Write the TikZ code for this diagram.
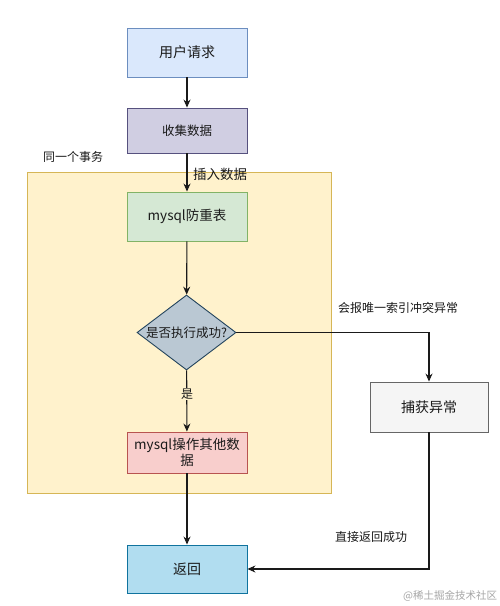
\documentclass[tikz,border=0pt]{standalone}
\usepackage{fontspec}
\setmainfont{Noto Sans CJK SC}
\usetikzlibrary{arrows.meta,shapes.geometric}
\definecolor{bluefill}{HTML}{DAE8FC}\definecolor{bluedraw}{HTML}{6C8EBF}
\definecolor{purpfill}{HTML}{D0CEE2}\definecolor{purpdraw}{HTML}{56517E}
\definecolor{yelfill}{HTML}{FFF2CC}\definecolor{yeldraw}{HTML}{D6B656}
\definecolor{grnfill}{HTML}{D5E8D4}\definecolor{grndraw}{HTML}{82B366}
\definecolor{diafill}{HTML}{BAC8D3}\definecolor{diadraw}{HTML}{23445D}
\definecolor{redfill}{HTML}{F8CECC}\definecolor{reddraw}{HTML}{B85450}
\definecolor{retfill}{HTML}{B1DDF0}\definecolor{retdraw}{HTML}{10739E}
\definecolor{gryfill}{HTML}{F5F5F5}\definecolor{grydraw}{HTML}{666666}
\definecolor{txt}{HTML}{1A1A1A}
\begin{document}
\begin{tikzpicture}[x=1pt,y=-1pt,
  box/.style={draw, line width=0.9pt, minimum width=120pt, inner sep=1pt, text=txt, align=center},
  lbl/.style={text=txt, inner sep=0pt, font=\fontsize{12}{14}\selectfont},
  arr/.style={draw=txt, line width=1.1pt, -{Stealth[length=8pt,width=7pt]}}]
\useasboundingbox (0,0) rectangle (500,606);
\fill[white] (0,0) rectangle (500,606);
% container
\node[draw=yeldraw, fill=yelfill, line width=0.9pt, minimum width=304pt, minimum height=321pt, inner sep=0pt] (tx) at (179,332.5) {};
\node[lbl, anchor=west] (txl) at (43,157) {同一个事务};
% boxes
\node[box, fill=bluefill, draw=bluedraw, minimum height=49pt, font=\fontsize{14}{16}\selectfont] (u) at (187,52.5) {用户请求};
\node[box, fill=purpfill, draw=purpdraw, minimum height=45pt, font=\fontsize{12.5}{15}\selectfont] (c) at (187,130.5) {收集数据};
\node[box, fill=grnfill, draw=grndraw, minimum height=49pt, font=\fontsize{13.5}{16}\selectfont] (g) at (187,216.5) {mysql防重表};
\node[draw=diadraw, fill=diafill, line width=0.9pt, diamond, minimum width=99pt, minimum height=75pt, inner sep=0pt] (d) at (186.5,332.5) {};
\node[text=txt, font=\fontsize{12.5}{15}\selectfont, inner sep=0pt] (dl) at (d.center) {是否执行成功?};
\node[box, fill=redfill, draw=reddraw, minimum height=41pt, font=\fontsize{13.5}{16}\selectfont] (r) at (187,452.5) {mysql操作其他数\\据};
\node[box, fill=retfill, draw=retdraw, minimum height=48pt, font=\fontsize{14}{16}\selectfont] (ret) at (187,569) {返回};
\node[box, fill=gryfill, draw=grydraw, minimum width=118pt, minimum height=50pt, font=\fontsize{14}{16}\selectfont] (catch) at (429,407) {捕获异常};
% connectors
\draw[arr] (u) -- (c);
\draw[arr] (c) -- (g);
\draw[arr] (g) -- (d);
\draw[arr] (d) -- (r);
\draw[arr] (r) -- (ret);
\draw[arr] (d.east) -| (catch.north);
\draw[arr] (catch.south) |- (ret.east);
% labels
\node[lbl, anchor=west, font=\fontsize{13.5}{16}\selectfont] (ins) at (193,174) {插入数据};
\node[lbl, fill=yelfill, inner sep=1pt] (yes) at (187,394) {是};
\node[lbl, anchor=west] (err) at (338,308) {会报唯一索引冲突异常};
\node[lbl, anchor=west] (ok) at (335,537) {直接返回成功};
\node[anchor=west, text=black!35, inner sep=0pt, font=\fontsize{10.5}{12}\selectfont] (wm) at (403,596) {@稀土掘金技术社区};
\end{tikzpicture}
\end{document}
